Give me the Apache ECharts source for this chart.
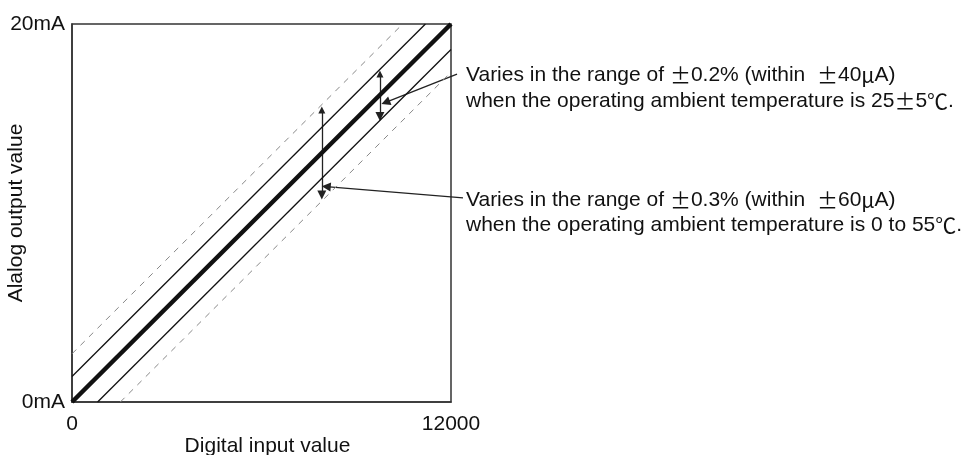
<!DOCTYPE html>
<html>
<head>
<meta charset="utf-8">
<script src="https://cdn.jsdelivr.net/npm/echarts@6/dist/echarts.min.js"></script>
<style>
  html, body { margin: 0; padding: 0; background: #fff; }
  #main { width: 973px; height: 455px; }
</style>
</head>
<body>
<div id="main"></div>
<script>
// axis ticks
var xTicks = [0, 12000];
var yTicks = [0, 20];

// characteristic lines (digital value, mA)
var idealLine  = [[0, 0], [12000, 20]];
var innerUpper = [[0, 1.35], [11190, 20]];
var innerLower = [[810, 0], [12000, 18.65]];
var outerUpper = [[0, 2.55], [10470, 20]];
var outerLower = [[1530, 0], [12000, 17.45]];

// range arrows and leader lines
var arrow25 = [[9750, 17.35], [9750, 15.1]];
var arrow55 = [[7910, 15.45], [7910, 10.95]];
var leader25 = [[12190, 17.35], [9930, 15.85]];
var leader55 = [[12380, 10.8], [8050, 11.4]];

// annotation texts
var note25 = [
  'Varies in the range of {s|±}0.2% (within  {s|±}40{s|μ}A)',
  'when the operating ambient temperature is 25{s|±}5{s|℃}.'
];
var note55 = [
  'Varies in the range of {s|±}0.3% (within  {s|±}60{s|μ}A)',
  'when the operating ambient temperature is 0 to 55{s|℃}.'
];

var font = '"Liberation Sans", Arial, sans-serif';
var rich = { s: { fontFamily: '"Noto Sans CJK JP"', fontSize: 21, fill: '#111' } };

function seg(data, style) {
  return {
    type: 'line', data: data, symbol: 'none', silent: true,
    lineStyle: style, animation: false
  };
}

function arrows(list, both, size, clip) {
  return {
    type: 'lines', coordinateSystem: 'cartesian2d', animation: false, silent: true,
    clip: clip,
    symbol: both ? ['triangle', 'triangle'] : ['none', 'triangle'],
    symbolSize: size,
    lineStyle: { color: '#222', width: 1.3, opacity: 1, curveness: 0 },
    itemStyle: { color: '#222' },
    data: list.map(function (c) { return { coords: c }; })
  };
}

function noteText(lines, x, y0, gap) {
  return lines.map(function (t, i) {
    return {
      type: 'text', x: x, y: y0 + i * gap,
      style: { text: t, font: '21px ' + font, fill: '#111', verticalAlign: 'middle', rich: rich }
    };
  });
}

var chart = echarts.init(document.getElementById('main'));
chart.setOption({
  backgroundColor: '#fff',
  animation: false,
  grid: {
    left: 72, top: 24, width: 379, height: 378,
    containLabel: false, outerBoundsMode: 'none',
    show: true, borderColor: '#333', borderWidth: 1.5
  },
  xAxis: {
    type: 'value', min: xTicks[0], max: xTicks[1], interval: xTicks[1] - xTicks[0],
    name: 'Digital input value', nameLocation: 'middle', nameGap: 34, nameMoveOverlap: false,
    nameTextStyle: { fontFamily: font, fontSize: 21, color: '#111', padding: [0, 0, 0, 12] },
    axisLine: { lineStyle: { color: '#333', width: 1.5 } },
    axisTick: { show: false }, splitLine: { show: false },
    axisLabel: {
      fontFamily: font, fontSize: 21, color: '#111', margin: 12,
      formatter: function (v) { return String(v); }
    }
  },
  yAxis: {
    type: 'value', min: yTicks[0], max: yTicks[1], interval: yTicks[1] - yTicks[0],
    name: 'Alalog output value', nameLocation: 'middle', nameGap: 45, nameMoveOverlap: false,
    nameTextStyle: { fontFamily: font, fontSize: 21, color: '#111' },
    axisLine: { show: true, lineStyle: { color: '#333', width: 1.5 } },
    axisTick: { show: false }, splitLine: { show: false },
    axisLabel: {
      fontFamily: font, fontSize: 21, color: '#111', margin: 7,
      formatter: function (v) { return v + 'mA'; }
    }
  },
  series: [
    seg(outerUpper, { color: '#888', width: 1, type: [6, 6] }),
    seg(outerLower, { color: '#888', width: 1, type: [6, 6] }),
    seg(innerUpper, { color: '#111', width: 1.3 }),
    seg(innerLower, { color: '#111', width: 1.3 }),
    seg(idealLine, { color: '#111', width: 4.5 }),
    arrows([arrow25, arrow55], true, [7, 9], true),
    arrows([leader25, leader55], false, [6, 9], false)
  ],
  graphic: noteText(note25, 466, 75, 26).concat(noteText(note55, 466, 200, 25))
});
</script>
</body>
</html>
